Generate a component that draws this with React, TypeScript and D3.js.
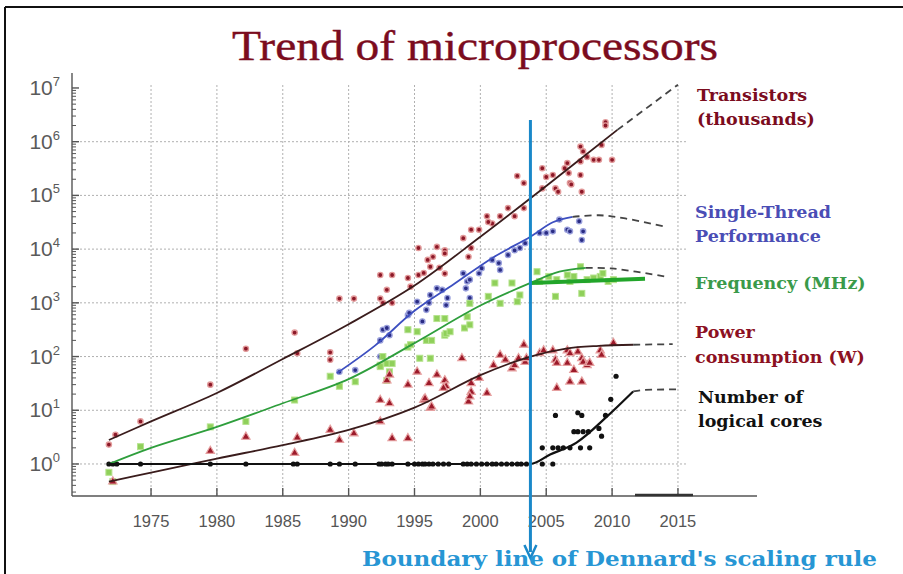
import * as d3 from "d3";

type Pt = [number, number];

// scatter data: [year, value]
const transistors: Pt[] = [
  [1971.8, 2.3], [1972.3, 3.5], [1974.2, 6.2], [1979.5, 30], [1982.2, 140],
  [1985.9, 280], [1986.1, 115], [1988.6, 120], [1988.6, 87], [1989.3, 1200],
  [1990.4, 1200], [1992.4, 3300], [1993.3, 3300], [1992.9, 1750], [1992.4, 1200],
  [1992.6, 1000], [1993.3, 1000], [1994.5, 2900], [1994.7, 2000], [1995.3, 3300],
  [1995.7, 3600], [1996.0, 6300], [1996.2, 4700], [1996.4, 7200], [1995.3, 10500],
  [1996.7, 11000], [1997.3, 9500], [1997.3, 8300], [1996.9, 4500], [1997.3, 3500],
  [1998.7, 16000], [1999.3, 23000], [1999.9, 23000], [1999.1, 7200], [1999.3, 10500],
  [2000.5, 41000], [2000.9, 30000], [2000.6, 32000], [2001.5, 41000], [2002.1, 58000],
  [2002.6, 41000], [2002.8, 230000], [2003.3, 170000], [2003.3, 58000], [2004.7, 320000],
  [2004.7, 135000], [2005.0, 220000], [2005.5, 240000], [2005.7, 135000], [2005.9, 117000],
  [2006.4, 320000], [2006.6, 400000], [2006.7, 260000], [2006.8, 170000], [2006.9, 160000],
  [2007.6, 810000], [2007.6, 430000], [2007.6, 240000], [2007.7, 117000], [2007.8, 660000],
  [2008.1, 520000], [2008.6, 460000], [2009.0, 460000], [2009.2, 870000], [2009.5, 2300000],
  [2009.5, 2000000], [2010.0, 460000],
];

const singleThread: Pt[] = [
  [1989.3, 52], [1990.5, 56], [1992.4, 100], [1992.6, 316], [1992.9, 340],
  [1993.1, 250], [1992.4, 200], [1994.5, 316], [1994.5, 590], [1994.6, 650],
  [1995.2, 1050], [1995.6, 450], [1995.9, 740], [1996.1, 1000], [1996.2, 1400],
  [1996.7, 1860], [1997.1, 1740], [1997.4, 910], [1997.5, 1230], [1998.7, 3550],
  [1999.0, 2500], [1998.9, 1860], [1999.2, 1230], [1999.2, 2700], [1999.9, 3550],
  [2000.1, 4400], [2000.9, 6300], [2001.4, 5500], [2001.5, 4100], [2002.1, 7800],
  [2002.6, 9500], [2003.0, 10500], [2003.4, 12900], [2004.5, 20000], [2005.0, 20000],
  [2005.5, 21400], [2006.0, 35500], [2006.6, 23000], [2006.8, 21400], [2007.5, 33000],
  [2007.7, 14800], [2007.8, 21400],
];

const frequency: Pt[] = [
  [1971.8, 0.7], [1972.1, 0.47], [1974.2, 2.1], [1979.5, 4.9], [1982.2, 6.2],
  [1985.9, 15.5], [1988.6, 43], [1989.3, 28], [1990.5, 34], [1992.4, 69],
  [1992.6, 100], [1992.9, 36], [1993.1, 52], [1992.4, 65], [1992.9, 74],
  [1993.3, 74], [1994.5, 150], [1994.5, 316], [1994.7, 166], [1995.2, 290],
  [1995.4, 93], [1996.2, 93], [1995.9, 200], [1996.3, 200], [1996.7, 510],
  [1997.3, 510], [1997.3, 250], [1997.4, 270], [1997.7, 290], [1998.8, 340],
  [1999.2, 390], [1999.0, 550], [1999.2, 980], [2000.6, 1320], [2001.1, 2340],
  [2001.5, 980], [2002.4, 2340], [2002.8, 1050], [2003.0, 1400], [2004.3, 3800],
  [2004.5, 2500], [2005.2, 3100], [2005.7, 1320], [2005.8, 2700], [2006.6, 3300],
  [2006.8, 2500], [2007.1, 3100], [2007.6, 4700], [2007.7, 1500], [2008.1, 2700],
  [2008.6, 2900], [2009.1, 3100], [2009.3, 3550], [2009.7, 2500], [2010.1, 2700],
];

const power: Pt[] = [
  [1972.1, 0.47], [1979.5, 1.74], [1982.2, 3.2], [1985.9, 1.6], [1986.1, 3.1],
  [1988.6, 4.3], [1989.3, 2.8], [1990.4, 3.7], [1992.4, 6.2], [1992.4, 15.5],
  [1993.1, 13.5], [1993.3, 3.0], [1994.5, 3.0], [1992.9, 36], [1993.1, 46],
  [1994.5, 30], [1995.2, 52], [1995.7, 15.5], [1996.1, 32], [1996.2, 11],
  [1996.7, 46], [1997.3, 36], [1997.4, 28], [1995.8, 16.6], [1996.3, 11.7],
  [1997.2, 26], [1998.6, 93], [1999.1, 14.5], [1999.3, 22], [1999.2, 18],
  [1999.3, 32], [1999.9, 40], [2000.5, 21], [2001.0, 69], [2001.5, 107],
  [2001.9, 87], [2002.4, 60], [2002.6, 69], [2002.9, 93], [2003.3, 166],
  [2003.4, 79], [2003.5, 93], [2004.5, 115], [2004.8, 130], [2005.5, 130],
  [2005.7, 87], [2005.8, 76], [2006.6, 130], [2006.8, 115], [2006.6, 76],
  [2007.1, 56], [2007.4, 123], [2007.7, 93], [2007.8, 79], [2008.1, 69],
  [2008.3, 76], [2009.1, 130], [2009.2, 107], [2010.1, 178], [2005.8, 26],
  [2006.8, 34], [2007.7, 34],
];

const cores: Pt[] = [
  [1971.8, 1], [1972.1, 1], [1972.4, 1], [1974.2, 1], [1979.5, 1], [1982.2, 1],
  [1985.8, 1], [1986.1, 1], [1988.6, 1], [1989.3, 1], [1990.5, 1], [1992.3, 1],
  [1992.5, 1], [1992.8, 1], [1993.0, 1], [1993.3, 1], [1994.5, 1], [1995.0, 1],
  [1995.3, 1], [1995.6, 1], [1995.8, 1], [1996.1, 1], [1996.4, 1], [1996.8, 1],
  [1997.2, 1], [1997.6, 1], [1998.7, 1], [1999.0, 1], [1999.3, 1], [1999.7, 1],
  [2000.1, 1], [2000.5, 1], [2000.9, 1], [2001.2, 1], [2001.6, 1], [2002.0, 1],
  [2002.4, 1], [2002.8, 1], [2003.1, 1], [2003.5, 1], [2004.7, 1], [2005.5, 1],
  [2004.7, 2], [2005.5, 2], [2005.9, 2], [2006.3, 2], [2006.8, 2], [2007.6, 2],
  [2008.3, 2], [2007.1, 4], [2007.4, 4], [2007.8, 4], [2008.2, 4], [2009.0, 4.6],
  [2009.2, 3.3], [2005.7, 8], [2007.4, 9], [2007.7, 8], [2009.5, 8],
  [2009.9, 16], [2010.3, 43],
];

// trend curves: solid part, dashed projection
const transistorFit: Pt[] = [
  [1971.8, 2.8], [1975, 6.2], [1980, 21], [1985, 90], [1990, 400],
  [1995, 2100], [2000, 17000], [2005, 150000], [2010.4, 1660000],
];
const transistorProj: Pt[] = [[2010.4, 1660000], [2015, 11500000]];

const singleFit: Pt[] = [
  [1989.1, 49], [1992, 160], [1995, 710], [1998, 2240], [2001, 7080],
  [2003.8, 17000], [2005.5, 31600], [2007, 39800],
];
const singleProj: Pt[] = [[2007, 39800], [2009, 42700], [2011, 37200], [2014, 26300]];

const freqFit: Pt[] = [
  [1971.8, 1.0], [1975, 2.0], [1980, 4.9], [1985, 13.5], [1990, 38],
  [1995, 178], [2000, 890], [2003.8, 2340], [2006, 3800], [2008, 4470],
];
const freqProj: Pt[] = [[2008, 4470], [2010, 4365], [2014, 3090]];
const freqActual: Pt[] = [[2003.8, 2340], [2012.5, 2820]];

const powerFit: Pt[] = [
  [1971.8, 0.47], [1975, 0.69], [1980, 1.26], [1985, 2.24], [1990, 4.3],
  [1995, 11.2], [2000, 45], [2003.8, 100], [2006.5, 141], [2009, 158], [2011.6, 166],
];
const powerProj: Pt[] = [[2011.6, 166], [2014.6, 170]];

const coreFit: Pt[] = [
  [1971.8, 1], [2003.8, 1], [2005.3, 1.5], [2007.3, 2.5], [2009.6, 7.6], [2011.6, 22.4],
];
const coreProj: Pt[] = [[2011.6, 22.4], [2012.5, 24], [2015, 24.5]];

const xTicks = [1975, 1980, 1985, 1990, 1995, 2000, 2005, 2010, 2015];
const yExps = [0, 1, 2, 3, 4, 5, 6, 7];
const dennardYear = 2003.8;

const x = d3.scaleLinear().domain([1969, 2021]).range([72, 757]);
const y = d3.scaleLog().domain([0.2535, 1.9e7]).range([496, 73]);

const smooth = d3
  .line<Pt>()
  .x((d) => x(d[0]))
  .y((d) => y(d[1]))
  .curve(d3.curveCatmullRom.alpha(0.5));
const line = d3
  .line<Pt>()
  .x((d) => x(d[0]))
  .y((d) => y(d[1]))
  .curve(d3.curveMonotoneX);

const triangle = d3.symbol(d3.symbolTriangle, 30)() as string;

const serif = "'DejaVu Serif', serif";
const sans = "'Liberation Sans', Arial, sans-serif";

export default function App() {
  const minor: number[] = [];
  for (let e = -1; e <= 7; e++) {
    for (let m = 2; m <= 9; m++) {
      const v = m * Math.pow(10, e);
      if (v > 0.2535 && v < 1.9e7) minor.push(v);
    }
  }
  const dx = x(dennardYear);

  return (
    <svg
      width={903}
      height={574}
      style={{ position: "absolute", left: 0, top: 0, background: "#fff" }}
    >
      {/* frame */}
      <line x1={5} y1={7} x2={903} y2={7} stroke="#111" strokeWidth={2} />
      <line x1={5} y1={7} x2={5} y2={574} stroke="#111" strokeWidth={2} />

      <text
        x={475}
        y={60}
        textAnchor="middle"
        fontFamily="'Liberation Serif', serif"
        fontSize={42}
        fill="#7b0c1e"
        stroke="#7b0c1e"
        strokeWidth={0.4}
        textLength={486}
        lengthAdjust="spacingAndGlyphs"
      >
        Trend of microprocessors
      </text>

      {/* grid */}
      <g stroke="#b0b0b0" strokeWidth={1} strokeDasharray="2,2">
        {xTicks.map((t) => (
          <line key={t} x1={x(t)} x2={x(t)} y1={85} y2={496} />
        ))}
        {yExps.slice(0, 7).map((e) => (
          <line key={e} x1={72} x2={688} y1={y(Math.pow(10, e))} y2={y(Math.pow(10, e))} />
        ))}
      </g>

      {/* axes */}
      <g stroke="#555" strokeWidth={1.4}>
        <line x1={72} x2={72} y1={73} y2={496} />
        <line x1={72} x2={757} y1={496} y2={496} />
        {xTicks.map((t) => (
          <line key={t} x1={x(t)} x2={x(t)} y1={496} y2={488} />
        ))}
        {yExps.map((e) => (
          <line key={e} x1={72} x2={79} y1={y(Math.pow(10, e))} y2={y(Math.pow(10, e))} />
        ))}
        {minor.map((v, i) => (
          <line key={i} x1={72} x2={76} y1={y(v)} y2={y(v)} strokeWidth={1} />
        ))}
      </g>
      <line x1={635} x2={693} y1={495} y2={495} stroke="#333" strokeWidth={2.5} />

      <g fontFamily={sans} fontSize={16.5} fill="#555" textAnchor="middle">
        {xTicks.map((t) => (
          <text key={t} x={x(t)} y={527}>
            {t}
          </text>
        ))}
      </g>
      <g fontFamily={sans} fontSize={21} fill="#5a5a5a" textAnchor="end">
        {yExps.map((e) => (
          <text key={e} x={60} y={y(Math.pow(10, e)) + 7}>
            10
            <tspan dy={-9} fontSize={13}>
              {e}
            </tspan>
          </text>
        ))}
      </g>

      {/* points */}
      <g>
        {transistors.map((d, i) => (
          <circle key={i} cx={x(d[0])} cy={y(d[1])} r={2.6} fill="#8c1828" stroke="#e29a9a" strokeWidth={1.4} />
        ))}
        {singleThread.map((d, i) => (
          <circle key={i} cx={x(d[0])} cy={y(d[1])} r={2.6} fill="#2a2c84" stroke="#9aa0dc" strokeWidth={1.4} />
        ))}
        {frequency.map((d, i) => (
          <rect key={i} x={x(d[0]) - 3} y={y(d[1]) - 3} width={6} height={6} fill="#8fd05a" stroke="#b6e38e" strokeWidth={1} />
        ))}
        {power.map((d, i) => (
          <path key={i} d={triangle} transform={`translate(${x(d[0])},${y(d[1])})`} fill="#9c1a2a" stroke="#e6a0a0" strokeWidth={1.2} />
        ))}
        {cores.map((d, i) => (
          <circle key={i} cx={x(d[0])} cy={y(d[1])} r={2.6} fill="#111" />
        ))}
      </g>

      {/* trend lines */}
      <g fill="none" strokeWidth={1.8}>
        <path d={smooth(transistorFit) as string} stroke="#3a1c1c" />
        <path d={smooth(singleFit) as string} stroke="#3d4fc0" />
        <path d={smooth(freqFit) as string} stroke="#2e9e3c" />
        <path d={smooth(powerFit) as string} stroke="#3a1c1c" />
        <path d={line(coreFit) as string} stroke="#111" strokeWidth={2.2} />
        <path d={line(freqActual) as string} stroke="#22a52a" strokeWidth={4} />
        <g stroke="#444" strokeDasharray="7,5">
          <path d={smooth(transistorProj) as string} />
          <path d={smooth(singleProj) as string} />
          <path d={smooth(freqProj) as string} />
          <path d={smooth(powerProj) as string} />
          <path d={line(coreProj) as string} />
        </g>
      </g>

      {/* Dennard boundary */}
      <line x1={dx} x2={dx} y1={120} y2={552} stroke="#1a88c9" strokeWidth={3} />
      <path d={`M${dx - 6},545 L${dx},558 L${dx + 6},545`} fill="none" stroke="#1a88c9" strokeWidth={2.5} />
      <text
        x={362}
        y={566}
        fontFamily={serif}
        fontSize={20}
        fontWeight={600}
        fill="#2796d4"
        textLength={515}
        lengthAdjust="spacingAndGlyphs"
      >
        Boundary line of Dennard's scaling rule
      </text>

      {/* series labels */}
      <g fontFamily={serif} fontSize={17.5} fontWeight={600}>
        <text x={697} y={101} fill="#7b0c1e">Transistors</text>
        <text x={697} y={125} fill="#7b0c1e">(thousands)</text>
        <text x={695} y={218} fill="#4a4db5">Single-Thread</text>
        <text x={695} y={242} fill="#4a4db5">Performance</text>
        <text x={695} y={289} fill="#3a9a4a">Frequency (MHz)</text>
        <text x={695} y={338} fill="#8c1022">Power</text>
        <text x={695} y={363} fill="#8c1022">consumption (W)</text>
        <text x={698} y={403} fill="#111">Number of</text>
        <text x={698} y={427} fill="#111">logical cores</text>
      </g>
    </svg>
  );
}
